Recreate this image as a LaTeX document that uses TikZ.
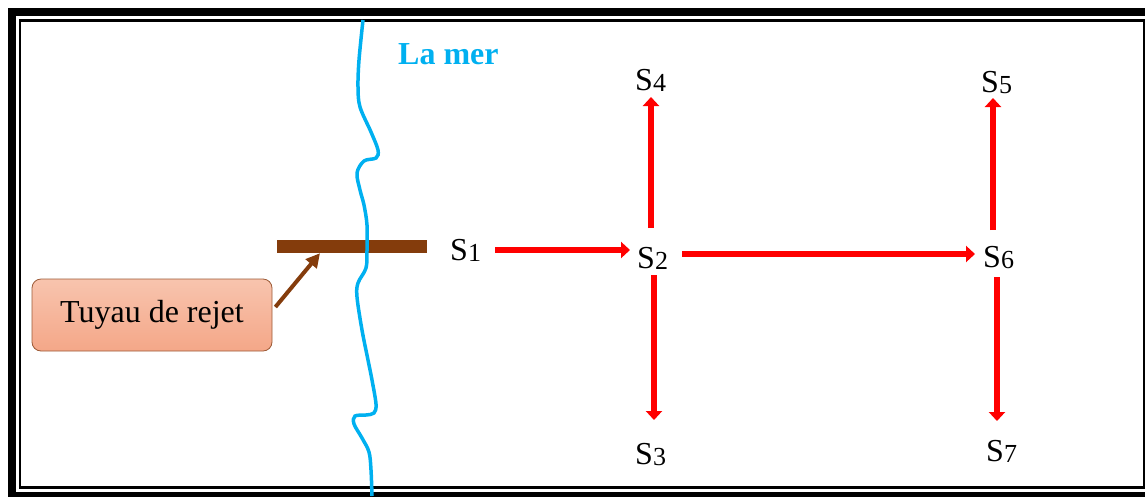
\documentclass[tikz,border=0pt]{standalone}
\usepackage{fontspec}
\setmainfont{Liberation Serif}
\usetikzlibrary{arrows.meta}
\definecolor{seablue}{HTML}{00B0F0}
\definecolor{pipebrown}{HTML}{843C0C}
\definecolor{boxtop}{HTML}{F8C4AE}
\definecolor{boxbottom}{HTML}{F4A788}
\definecolor{boxborder}{HTML}{9C5A36}
\newcommand\slab[1]{{\fontsize{32}{36}\selectfont S}{\fontsize{26}{30}\selectfont\raisebox{-1.5pt}{#1}}}
\begin{document}
\begin{tikzpicture}[x=1pt,y=-1pt,
  slabel/.style={inner sep=0pt, anchor=base west},
  redarrow/.style={draw=red, line width=6pt, -{Triangle[width=16pt,length=9pt]}},
  brownarrow/.style={draw=pipebrown, line width=4pt, -{Triangle[width=14pt,length=14pt]}},
  pipebar/.style={fill=pipebrown, minimum width=150pt, minimum height=13pt, inner sep=0pt},
  tuyau/.style={rounded corners=9pt, draw=boxborder, line width=0.8pt, top color=boxtop, bottom color=boxbottom,
    minimum width=240pt, minimum height=72pt, inner sep=0pt, font=\fontsize{32}{38}\selectfont},
  sea/.style={draw=seablue, line width=3.5pt}
  ]
\useasboundingbox (0,0) rectangle (1145,496);
% frame
\draw[line width=8pt] (12,12) rectangle (1160,496);
\draw[line width=2.4pt] (19.7,20.3) rectangle (1143.8,487.3);
% pipe and label
\node[pipebar] (pipe) at (352,246.5) {};
\node[tuyau] (box) at (152,315) {Tuyau de rejet};
\draw[brownarrow] ([xshift=3pt,yshift=8pt]box.east) -- ([xshift=-32pt]pipe.south);
% shoreline
\draw[sea] plot[smooth,tension=0.55] coordinates {
 (363,20) (359,60) (358,87) (360,107) (371,132) (378,150) (376,158) (364,161) (357,173) (360,190)
 (364,205) (367,225) (367,250) (366,268) (358,283) (357,297) (362,330) (368,360) (372,380)
 (376,404) (374,413) (366,415) (355,416) (354,424) (362,438) (369,452) (371,470) (372,496)};
% sea label
\node[inner sep=0pt, anchor=base west, text=seablue, font=\bfseries\fontsize{32}{36}\selectfont] (mer) at (398,64) {La mer};
% stations
\node[slabel] (s1) at (450,260) {\slab{1}};
\node[slabel] (s2) at (637,268) {\slab{2}};
\node[slabel] (s3) at (635,464) {\slab{3}};
\node[slabel] (s4) at (635,90) {\slab{4}};
\node[slabel] (s5) at (981,92) {\slab{5}};
\node[slabel] (s6) at (983,267) {\slab{6}};
\node[slabel] (s7) at (986,461) {\slab{7}};
% arrows
\draw[redarrow] ([xshift=14pt,yshift=10pt]s1.base east) -- ([xshift=-7pt,yshift=18pt]s2.base west);
\draw[redarrow] ([xshift=14pt,yshift=14pt]s2.base east) -- ([xshift=-8pt,yshift=13pt]s6.base west);
\draw[redarrow] ([xshift=14pt,yshift=40pt]s2.base west) -- ([xshift=16pt,yshift=-7pt]s4.base west);
\draw[redarrow] ([xshift=17pt,yshift=-7pt]s2.base west) -- ([xshift=19pt,yshift=44pt]s3.base west);
\draw[redarrow] ([xshift=10pt,yshift=37pt]s6.base west) -- ([xshift=12pt,yshift=-6pt]s5.base west);
\draw[redarrow] ([xshift=14pt,yshift=-10pt]s6.base west) -- ([xshift=11pt,yshift=40pt]s7.base west);
\end{tikzpicture}
\end{document}
